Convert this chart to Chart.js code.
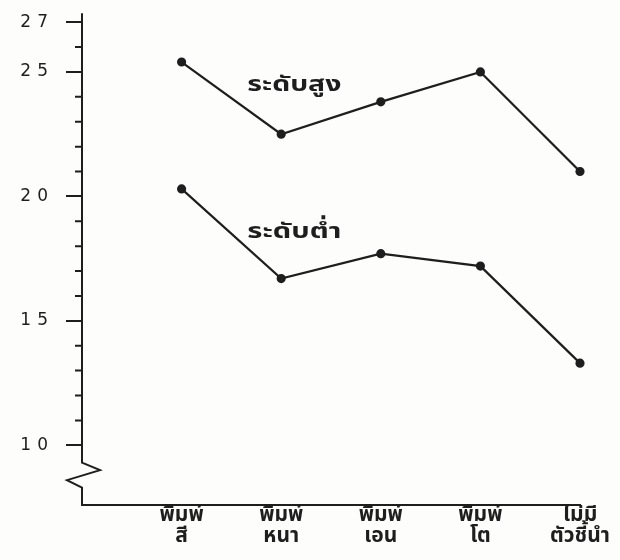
<!DOCTYPE html>
<html>
<head>
<meta charset="utf-8">
<script src="https://cdn.jsdelivr.net/npm/chart.js@4.4.1/dist/chart.umd.min.js"></script>
<style>
  html, body { margin: 0; padding: 0; background: #fdfdfb; }
  #wrap { width: 620px; height: 560px; }
</style>
</head>
<body>
<div id="wrap"><canvas id="chart"></canvas></div>
<script>
// Categories on the x axis (two lines each)
const categories = [
  ['พิมพ์', 'สี'],
  ['พิมพ์', 'หนา'],
  ['พิมพ์', 'เอน'],
  ['พิมพ์', 'โต'],
  ['ไม่มี', 'ตัวชี้นำ']
];

// Series values
const seriesNames = ['ระดับสูง', 'ระดับต่ำ'];
const highValues = [25.4, 22.5, 23.8, 25.0, 21.0];
const lowValues = [20.3, 16.7, 17.7, 17.2, 13.3];

// Y tick labels that are printed (others are minor ticks)
const labeledTicks = [10, 15, 20, 25, 27];

const ink = '#1e1e1e';
const thaiFont = "'Noto Sans Thai', 'Loma', 'Garuda', sans-serif";

function toPoints(values) {
  return values.map((v, i) => ({ x: i, y: v }));
}

// Wide spacing for the y numbers only (they are drawn after the datasets)
const spacing = {
  id: 'spacing',
  afterDatasetsDraw(chart) {
    chart.ctx.letterSpacing = '6px';
  },
  afterDraw(chart) {
    chart.ctx.letterSpacing = '0px';
  }
};

// Draws the y axis with its break, minor ticks and series names
const axisDecor = {
  id: 'axisDecor',
  afterDraw(chart) {
    const ctx = chart.ctx;
    const y = chart.scales.y;
    const x = chart.scales.x;
    const ax = chart.chartArea.left;
    ctx.save();
    ctx.letterSpacing = '0px';
    ctx.strokeStyle = ink;
    ctx.lineWidth = 2;
    ctx.lineJoin = 'miter';

    // axis line with zigzag break
    ctx.beginPath();
    ctx.moveTo(ax, y.getPixelForValue(27) - 9);
    ctx.lineTo(ax, y.getPixelForValue(9.3));
    ctx.lineTo(ax + 18, y.getPixelForValue(9.0));
    ctx.lineTo(ax - 15, y.getPixelForValue(8.6));
    ctx.lineTo(ax, y.getPixelForValue(8.3));
    ctx.lineTo(ax, chart.chartArea.bottom);
    ctx.stroke();

    // minor ticks
    ctx.beginPath();
    for (let v = 11; v < 27; v++) {
      if (labeledTicks.includes(v)) continue;
      const py = y.getPixelForValue(v);
      ctx.moveTo(ax - 7, py);
      ctx.lineTo(ax, py);
    }
    ctx.stroke();

    // series names, stretched a little like the typewriter lettering
    ctx.fillStyle = ink;
    ctx.font = "bold 22px " + thaiFont;
    ctx.textAlign = 'left';
    ctx.textBaseline = 'middle';
    [[0, 24.4], [1, 18.5]].forEach(([i, v]) => {
      const px = x.getPixelForValue(0.66);
      const py = y.getPixelForValue(v);
      const w = ctx.measureText(seriesNames[i]).width;
      ctx.save();
      ctx.translate(px, py);
      ctx.scale(94 / w, 1);
      ctx.fillText(seriesNames[i], 0, 0);
      ctx.restore();
    });
    ctx.restore();
  }
};

const datasetStyle = {
  borderColor: ink,
  backgroundColor: ink,
  borderWidth: 2.2,
  pointRadius: 3.5,
  pointHoverRadius: 3.5,
  tension: 0,
  clip: false
};

const chart = new Chart(document.getElementById('chart'), {
  type: 'line',
  data: {
    datasets: [
      Object.assign({ label: seriesNames[0], data: toPoints(highValues) }, datasetStyle),
      Object.assign({ label: seriesNames[1], data: toPoints(lowValues) }, datasetStyle)
    ]
  },
  options: {
    responsive: true,
    maintainAspectRatio: false,
    animation: false,
    layout: { padding: { left: 0, top: 21, right: 40, bottom: 0 } },
    plugins: {
      legend: { display: false },
      tooltip: { enabled: false }
    },
    scales: {
      x: {
        type: 'linear',
        min: -1,
        max: 4,
        ticks: {
          stepSize: 1,
          autoSkip: false,
          maxRotation: 0,
          padding: 1,
          color: ink,
          font: { family: thaiFont, size: 21, weight: 'bold', lineHeight: 1.0 },
          callback: (value) => (Number.isInteger(value) && value >= 0 ? categories[value] : '')
        },
        grid: { display: false, drawTicks: false },
        border: { display: true, color: ink, width: 2 },
        afterFit(scale) {
          scale.height = 55;
          scale.paddingLeft = 0;
          scale.paddingRight = 0;
        }
      },
      y: {
        min: 7.6,
        max: 27,
        ticks: {
          z: 1,
          stepSize: 1,
          autoSkip: false,
          padding: 12,
          color: ink,
          font: { family: "'DejaVu Sans'", size: 17 },
          callback: (value) => (labeledTicks.includes(value) ? String(value) : '')
        },
        grid: {
          drawOnChartArea: false,
          drawTicks: true,
          tickLength: 16,
          lineWidth: 2,
          tickColor: (ctx) => (ctx.tick && labeledTicks.includes(ctx.tick.value) ? ink : 'rgba(0,0,0,0)')
        },
        border: { display: false },
        afterFit(scale) {
          scale.width = 82;
        }
      }
    }
  },
  plugins: [spacing, axisDecor]
});
</script>
</body>
</html>
